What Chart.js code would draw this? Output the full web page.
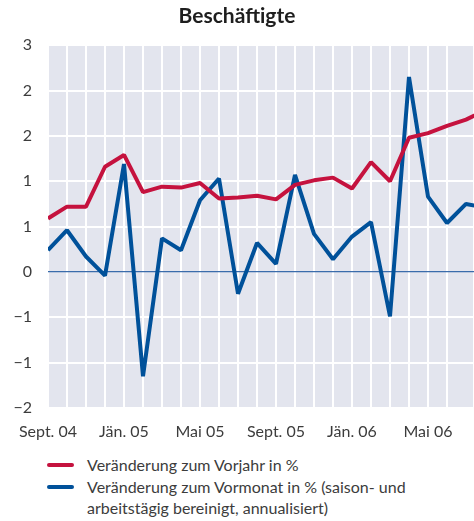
<!DOCTYPE html>
<html>
<head>
<meta charset="utf-8">
<script src="https://cdn.jsdelivr.net/npm/chart.js@4.4.1/dist/chart.umd.min.js"></script>
<style>
  body { margin: 0; background: #fff; font-family: Lato, "Open Sans", sans-serif; }
  .contChart { position: relative; width: 474px; height: 446px; }
  #legend { margin-top: 8px; color: #3c3c3c; font-size: 16px; line-height: 21.5px; }
  .legRow { position: relative; padding-left: 87px; }
  .legLine { position: absolute; left: 47px; top: 9px; width: 27px; height: 4px; border-radius: 2px; }
</style>
</head>
<body>
<div class="contChart"><canvas id="myChart"></canvas></div>
<div id="legend"></div>
<script>
// months Sept. 04 - Aug. 06
var months = ['Sept. 04', 'Okt. 04', 'Nov. 04', 'Dez. 04', 'Jän. 05', 'Feb. 05', 'März 05', 'Apr. 05',
  'Mai 05', 'Juni 05', 'Juli 05', 'Aug. 05', 'Sept. 05', 'Okt. 05', 'Nov. 05', 'Dez. 05',
  'Jän. 06', 'Feb. 06', 'März 06', 'Apr. 06', 'Mai 06', 'Juni 06', 'Juli 06', 'Aug. 06'];
var tickLabels = ['Sept. 04', 'Jän. 05', 'Mai 05', 'Sept. 05', 'Jän. 06', 'Mai 06'];
var vorjahr = [0.59, 0.72, 0.72, 1.16, 1.29, 0.88, 0.94, 0.93, 0.98, 0.81, 0.82, 0.84,
  0.80, 0.96, 1.01, 1.04, 0.92, 1.21, 1.00, 1.48, 1.53, 1.61, 1.68, 1.78];
var vormonat = [0.24, 0.46, 0.17, -0.04, 1.19, -1.15, 0.37, 0.24, 0.79, 1.03, -0.24, 0.32,
  0.09, 1.07, 0.42, 0.14, 0.39, 0.55, -0.49, 2.15, 0.83, 0.54, 0.75, 0.71];
var yTicks = [2.5, 2, 1.5, 1, 0.5, 0, -0.5, -1, -1.5];
var labelVorjahr = 'Veränderung zum Vorjahr in %';
var labelVormonat = ['Veränderung zum Vormonat in % (saison- und', 'arbeitstägig bereinigt, annualisiert)'];

var red = '#c5123e';
var blue = '#00519a';

//turns a value array into points for the linear x scale
function toPoints(arr) {
  var out = [];
  for (var i = 0; i < arr.length; i++) {
    out.push({ x: i, y: arr[i] });
  }
  return out;
}

//label rounded away from zero, like the original
function yLabel(v) {
  var r = Math.round(Math.abs(v));
  if (r === 0) return '0';
  return (v < 0 ? '\u2212' : '') + r;
}

//grey background of the plot
var plotBg = {
  id: 'plotBg',
  beforeDraw: function (chart) {
    var a = chart.chartArea;
    var ctx = chart.ctx;
    ctx.save();
    ctx.fillStyle = '#e3e5ee';
    ctx.fillRect(a.left, a.top, a.right - a.left, a.bottom - a.top);
    ctx.restore();
  }
};

function chart() {
  var ctx = document.getElementById('myChart').getContext('2d');
  new Chart(ctx, {
    type: 'line',
    data: {
      datasets: [{
        label: labelVorjahr,
        data: toPoints(vorjahr),
        borderColor: red,
        borderWidth: 4,
        borderJoinStyle: 'bevel',
        pointRadius: 0,
        tension: 0
      }, {
        label: labelVormonat,
        data: toPoints(vormonat),
        borderColor: blue,
        borderWidth: 4,
        borderJoinStyle: 'bevel',
        pointRadius: 0,
        tension: 0
      }]
    },
    options: {
      responsive: true,
      maintainAspectRatio: false,
      animation: false,
      layout: { padding: { top: 4, right: 0, left: 0, bottom: 0 } },
      plugins: {
        legend: { display: false },
        tooltip: { enabled: false },
        title: {
          display: true,
          text: 'Beschäftigte',
          color: '#1e1e1e',
          font: { family: 'Lato', size: 21, weight: 'bold' },
          padding: { top: 0, bottom: 16 }
        }
      },
      scales: {
        x: {
          type: 'linear',
          min: 0,
          max: 426 / 19,
          afterFit: function (s) {
            s.height = 38;
            s.paddingLeft = 0;
            s.paddingRight = 0;
          },
          border: { display: false },
          grid: { color: '#ffffff', lineWidth: 2, drawTicks: false },
          ticks: {
            stepSize: 1,
            autoSkip: false,
            maxRotation: 0,
            padding: 14,
            color: '#3c3c3c',
            font: { family: 'Lato', size: 16 },
            callback: function (v) {
              if (v !== Math.floor(v)) return '';
              var m = months[v];
              return tickLabels.indexOf(m) >= 0 ? m : '';
            }
          }
        },
        y: {
          min: yTicks[yTicks.length - 1],
          max: yTicks[0],
          afterFit: function (s) {
            s.width = 48;
            s.paddingTop = 0;
            s.paddingBottom = 0;
          },
          border: { display: false },
          grid: {
            drawTicks: false,
            color: function (c) { return c.tick.value === 0 ? '#3a6cab' : '#ffffff'; },
            lineWidth: function (c) { return c.tick.value === 0 ? 1.3 : 2; }
          },
          ticks: {
            stepSize: 0.5,
            padding: 16,
            color: '#3c3c3c',
            font: { family: 'Lato', size: 16 },
            callback: function (v) { return yLabel(v); }
          }
        }
      }
    },
    plugins: [plotBg]
  });
}

//html legend, so the long label can wrap
function legend() {
  var items = [[labelVorjahr, red], [labelVormonat, blue]];
  var html = '';
  for (var i = 0; i < items.length; i++) {
    var t = items[i][0];
    if (Array.isArray(t)) t = t.join('<br>');
    html += '<div class="legRow"><span class="legLine" style="background:' + items[i][1] + '"></span>' + t + '</div>';
  }
  document.getElementById('legend').innerHTML = html;
}

chart();
legend();
</script>
</body>
</html>
